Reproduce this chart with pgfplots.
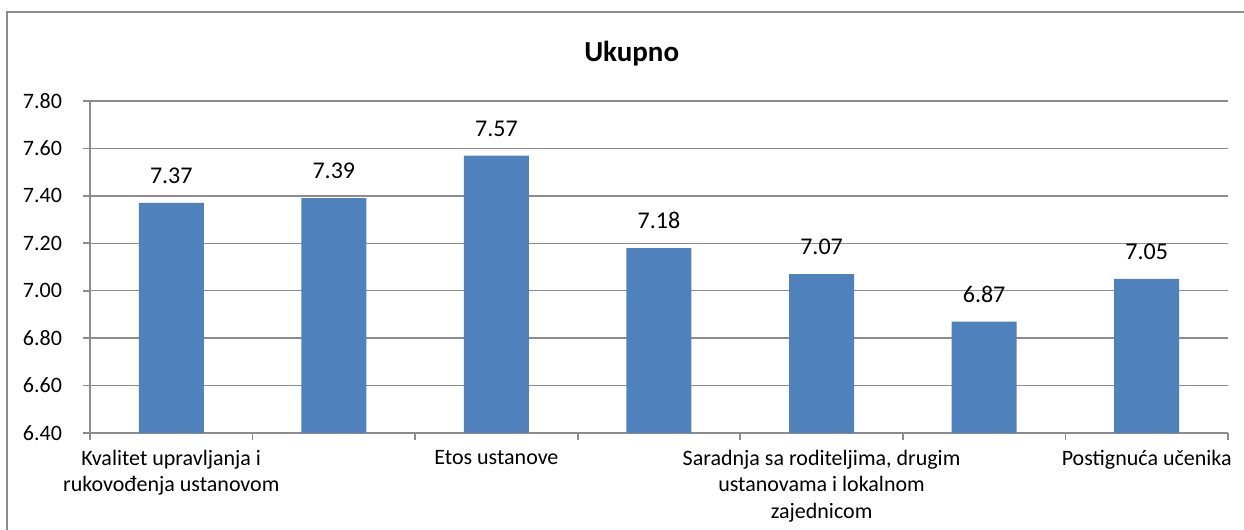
\documentclass[border=0pt]{standalone}
\usepackage{pgfplots}
\pgfplotsset{compat=1.18}
\usepackage{fontspec}
\setmainfont{Carlito}
\definecolor{barblue}{HTML}{4F81BD}
\definecolor{gridgray}{HTML}{8C8C8C}
\begin{document}
\begin{tikzpicture}
\useasboundingbox (-45pt,-48.5pt) rectangle (577pt,216.5pt);
\draw[color=gridgray, line width=1.2pt] (-41.5pt,-80pt) -- (-41.5pt,210.5pt) -- (620pt,210.5pt);
\begin{axis}[
  at={(0,0)}, anchor=south west,
  scale only axis,
  width=569pt, height=166pt,
  xmin=0.5, xmax=7.5,
  ymin=6.4, ymax=7.8,
  ytick={6.4,6.6,6.8,7.0,7.2,7.4,7.6,7.8},
  yticklabel style={font=\fontsize{11}{13}\selectfont, xshift=-7pt},
  /pgf/number format/.cd, fixed, fixed zerofill, precision=2, assume math mode=true,
  /pgfplots/.cd,
  xtick={0.5,1.5,2.5,3.5,4.5,5.5,6.5,7.5},
  xticklabels={},
  extra x ticks={1,3,5,7},
  extra x tick labels={{Kvalitet upravljanja i\\rukovođenja ustanovom},{Etos ustanove},{Saradnja sa roditeljima, drugim\\ustanovama i lokalnom\\zajednicom},{Postignuća učenika}},
  extra x tick style={major tick length=0pt, grid=none, xticklabel style={align=center, font=\fontsize{11}{13.3}\selectfont, yshift=-5pt}},
  tick align=outside,
  major tick length=3.5pt,
  axis x line*=bottom, axis y line*=left,
  axis line style={color=gridgray, line width=0.9pt},
  every tick/.style={color=gridgray, line width=0.9pt},
  ymajorgrids,
  major grid style={color=gridgray, line width=0.7pt},
  ybar, bar width=32.5pt,
  nodes near coords,
  point meta=explicit symbolic,
  every node near coord/.append style={font=\fontsize{12}{14}\selectfont, yshift=6pt},
  title={\bfseries Ukupno},
  title style={font=\fontsize{14.5}{16}\selectfont, at={(0.476,1)}, yshift=8pt},
  clip=false,
]
\addplot[fill=barblue, draw=none] coordinates {
  (1,7.37) [7.37]
  (2,7.39) [7.39]
  (3,7.57) [7.57]
  (4,7.18) [7.18]
  (5,7.07) [7.07]
  (6,6.87) [6.87]
  (7,7.05) [7.05]
};
\end{axis}
\end{tikzpicture}
\end{document}
